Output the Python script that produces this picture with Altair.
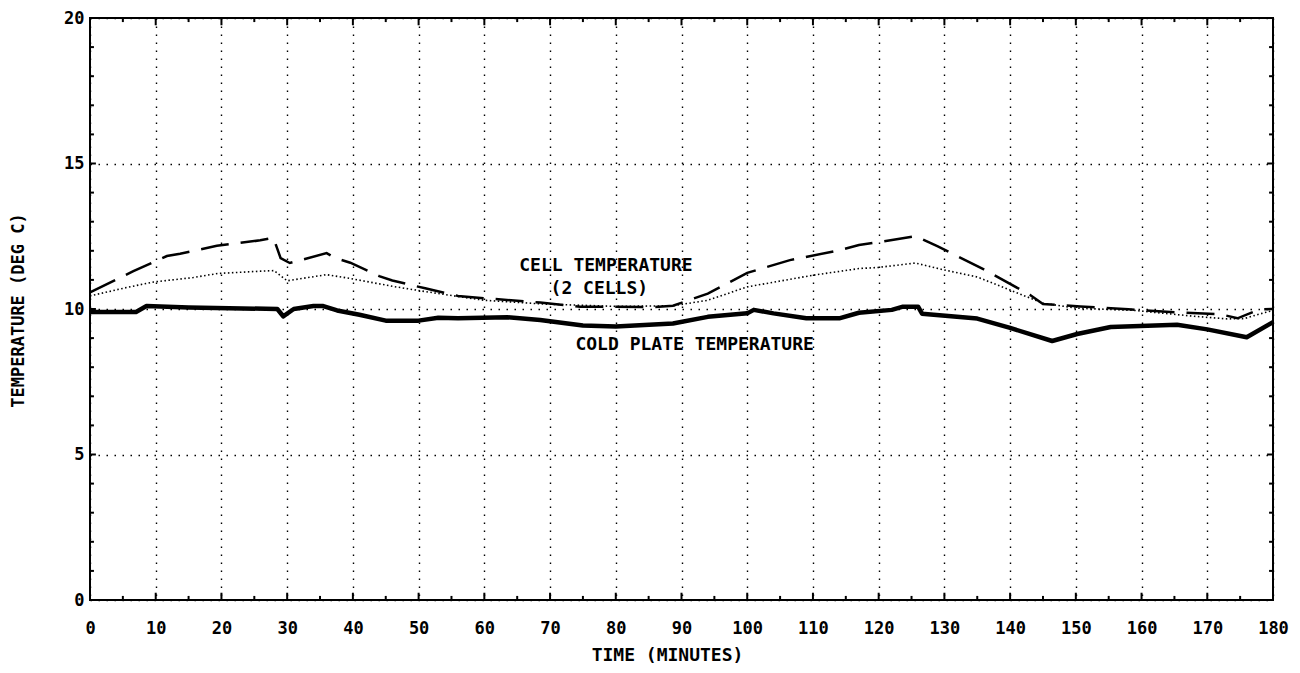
import altair as alt
import pandas as pd

# ---- data ----
time_cold = [0, 7, 8.6, 15, 28.5, 29.4, 31, 34, 35.5, 37.6, 41, 45, 50, 53, 56, 63.5, 68.5, 75, 80, 88.7,
             94, 100, 101, 104, 109, 114, 117, 122, 123.7, 126, 126.6, 135, 140, 146.4, 150.2, 155.3,
             165.4, 170, 176, 180]
cold_plate = [9.9, 9.9, 10.1, 10.05, 10.0, 9.75, 10.0, 10.1, 10.1, 9.95, 9.8, 9.6, 9.6, 9.7, 9.68, 9.72,
              9.62, 9.43, 9.4, 9.5, 9.73, 9.85, 9.97, 9.85, 9.68, 9.68, 9.87, 9.97, 10.08, 10.08, 9.84,
              9.67, 9.35, 8.9, 9.14, 9.38, 9.46, 9.3, 9.03, 9.55]

time_cell_a = [0, 4.6, 6.6, 11.7, 13.7, 19.3, 25.9, 27.9, 29, 30.4, 32.4, 36, 37.3, 39.6, 44, 46, 51, 56,
               60, 68.5, 74.6, 86, 88.7, 94, 100, 106.5, 114, 117, 121.8, 125.6, 129, 136, 143, 145,
               150.7, 158, 165, 172, 174.6, 178, 180]
cell_a = [10.57, 11.08, 11.3, 11.82, 11.9, 12.17, 12.36, 12.45, 11.75, 11.58, 11.7, 11.92, 11.75, 11.59,
          11.13, 10.98, 10.71, 10.45, 10.37, 10.22, 10.08, 10.07, 10.11, 10.53, 11.24, 11.68, 12.02, 12.2,
          12.36, 12.5, 12.15, 11.36, 10.49, 10.17, 10.09, 9.99, 9.89, 9.82, 9.68, 9.99, 10.0]

time_cell_b = [0, 5.6, 9.7, 15.7, 19.4, 26, 28, 30, 36, 39.6, 46, 51, 56, 60, 69, 80, 88.7, 94, 100, 110,
               117, 120, 125.6, 129.8, 135, 140, 145, 150, 159, 168, 173, 175.6, 178, 180]
cell_b = [10.45, 10.74, 10.93, 11.08, 11.22, 11.3, 11.32, 10.97, 11.18, 11.05, 10.78, 10.6, 10.43, 10.3,
          10.17, 10.09, 10.11, 10.3, 10.76, 11.16, 11.39, 11.43, 11.58, 11.35, 11.1, 10.65, 10.2, 10.03,
          9.95, 9.75, 9.66, 9.67, 9.83, 9.95]

x_tick_values = list(range(0, 181, 10))
y_tick_values = [0, 5, 10, 15, 20]
minor_x = list(range(0, 181, 5))
minor_y = list(range(0, 21))

annot_text = ["CELL TEMPERATURE", "(2 CELLS)", "COLD PLATE TEMPERATURE"]
annot_t = [78.5, 77.5, 92]
annot_T = [11.47, 10.68, 8.75]

FONT = "DejaVu Sans Mono"

xs = alt.Scale(domain=[0, 180], nice=False, zero=False)
ys = alt.Scale(domain=[0, 20], nice=False)

x_axis = alt.Axis(values=x_tick_values, title="TIME (MINUTES)", grid=True, gridDash=[1.5, 6.5],
                  gridColor="#000", gridWidth=1.4, ticks=False, domain=False, labelFont=FONT,
                  labelFontSize=17, labelFontWeight="bold", labelPadding=20, labelColor="#000",
                  labelFlush=False, titleFont=FONT, titleFontSize=18, titleFontWeight="bold",
                  titlePadding=10, titleColor="#000", titleX=577, titleAlign="center")
y_axis = alt.Axis(values=y_tick_values, title="TEMPERATURE (DEG C)", grid=True, gridDash=[1.5, 6.5],
                  gridColor="#000", gridWidth=1.4, ticks=False, domain=False, labelFont=FONT,
                  labelFontSize=17, labelFontWeight="bold", labelPadding=6, labelColor="#000",
                  labelFlush=False, titleFont=FONT, titleFontSize=17, titleFontWeight="bold",
                  titleColor="#000", titleX=-72, titleY=292, titleAngle=270, titleAlign="center",
                  titleBaseline="middle")

X = alt.X("t:Q", scale=xs, axis=x_axis)
Y = alt.Y("T:Q", scale=ys, axis=y_axis)

df_cold = pd.DataFrame({"t": time_cold, "T": cold_plate})
df_a = pd.DataFrame({"t": time_cell_a, "T": cell_a})
df_b = pd.DataFrame({"t": time_cell_b, "T": cell_b})

cold_layer = alt.Chart(df_cold).mark_line(color="black", strokeWidth=4.5, strokeJoin="round").encode(
    x=X, y=Y)
a_layer = alt.Chart(df_a).mark_line(color="black", strokeWidth=2.5, strokeDash=[28, 12]).encode(
    x=X, y=Y)
b_layer = alt.Chart(df_b).mark_line(color="black", strokeWidth=1.6, strokeDash=[1.5, 2.5]).encode(
    x=X, y=Y)

df_text = pd.DataFrame({"t": annot_t, "T": annot_T, "label": annot_text})
text_layer = alt.Chart(df_text).mark_text(font=FONT, fontSize=18, fontWeight="bold", color="black",
                                          align="center", baseline="middle").encode(
    x=X, y=Y, text="label:N")

# tick marks pointing into the plot on all four sides
xlen = [0.25 if v % 10 == 0 else 0.14 for v in minor_x]
df_xb = pd.DataFrame({"t": minor_x, "T": [0] * len(minor_x), "T2": xlen})
df_xt = pd.DataFrame({"t": minor_x, "T": [20] * len(minor_x), "T2": [20 - v for v in xlen]})
ylen = [0.9 if v % 5 == 0 else 0.6 for v in minor_y]
df_yl = pd.DataFrame({"T": minor_y, "t": [0] * len(minor_y), "t2": ylen})
df_yr = pd.DataFrame({"T": minor_y, "t": [180] * len(minor_y), "t2": [180 - v for v in ylen]})


def xticks(df):
    return alt.Chart(df).mark_rule(color="black", strokeWidth=2).encode(x=X, y=Y, y2="T2:Q")


def yticks(df):
    return alt.Chart(df).mark_rule(color="black", strokeWidth=2).encode(y=Y, x=X, x2="t2:Q")


chart = alt.layer(
    cold_layer, a_layer, b_layer, text_layer,
    xticks(df_xb), xticks(df_xt), yticks(df_yl), yticks(df_yr),
).properties(
    width=1183,
    height=582,
    autosize=alt.AutoSizeParams(type="none"),
    padding={"left": 82, "top": 10, "right": 19, "bottom": 65},
    background="white",
).configure_view(stroke="black", strokeWidth=2)

chart.save("out.html", embed_options={"renderer": "svg", "actions": False})
